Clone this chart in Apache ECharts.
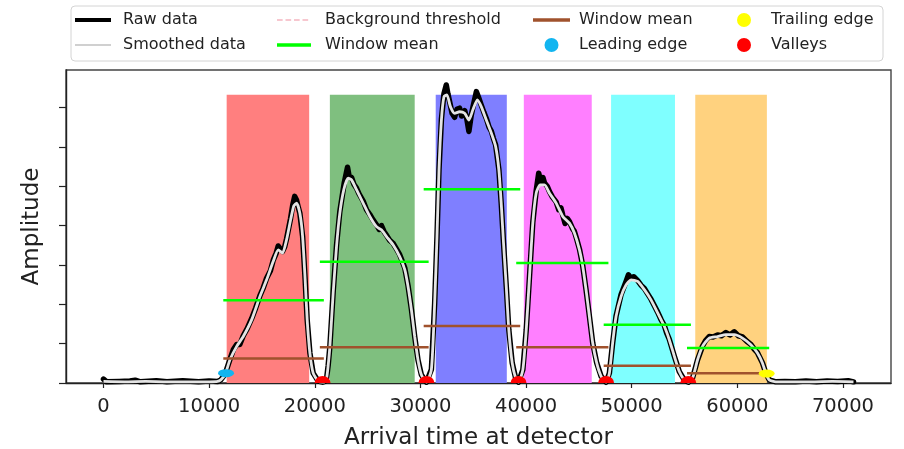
<!DOCTYPE html>
<html>
<head>
<meta charset="utf-8">
<script src="https://cdn.jsdelivr.net/npm/echarts@6/dist/echarts.min.js"></script>
<style>
  html, body { margin: 0; padding: 0; background: #fff; }
  #chart { width: 904px; height: 449px; }
</style>
</head>
<body>
<div id="chart"></div>
<script>
// Detector trace: [arrival time, amplitude]
const rawData = [
  [0,0.10],[300,0.03],[1500,0.04],[2500,0.05],[3000,0.07],[3500,0.03],[5000,0.06],[6000,0.03],
  [7500,0.06],[9000,0.03],[10000,0.05],[10800,0.04],[11100,0.08],
  [11500,0.22],[11970,0.60],[12300,0.85],[12610,0.98],[12900,0.98],[13230,1.20],[13600,1.38],
  [14030,1.64],[14400,1.90],[14810,2.22],[15100,2.40],[15440,2.66],[15800,2.85],[16070,3.12],
  [16350,3.30],[16540,3.48],[16750,3.40],[16950,3.34],[17150,3.46],[17330,3.66],[17710,4.18],
  [17900,4.50],[18100,4.74],[18280,4.64],[18450,4.45],[18590,4.31],[18850,3.72],[19090,2.62],
  [19280,1.61],[19540,0.76],[19850,0.25],[20320,0.05],[20740,0.02],
  [20950,0.04],[21120,0.12],[21270,0.45],[21430,0.93],[21740,2.30],[22060,3.50],[22370,4.35],
  [22600,4.75],[22800,5.10],[23000,5.35],[23100,5.48],[23250,5.25],[23480,5.22],[23700,5.05],
  [23950,4.95],[24200,4.80],[24580,4.62],[24900,4.40],[25210,4.28],[25500,4.15],[25840,4.02],
  [26100,3.90],[26310,4.00],[26550,3.85],[26790,3.75],[27100,3.62],[27410,3.55],[27700,3.42],
  [28040,3.26],[28300,3.08],[28520,2.92],[28830,2.47],[29150,1.87],[29460,1.18],[29770,0.59],
  [30090,0.21],[30570,0.02],
  [31040,0.34],[31350,2.03],[31570,3.72],[31760,5.41],[31990,6.70],[32230,7.35],[32450,7.57],
  [32600,7.35],[32840,7.05],[33000,6.85],[33240,6.75],[33450,6.95],[33710,6.98],[33900,6.78],
  [34190,6.92],[34400,6.70],[34590,6.39],[34800,6.78],[34970,7.00],[35300,7.40],[35500,7.26],
  [35760,7.06],[36000,6.88],[36240,6.72],[36500,6.50],[36710,6.40],[36900,6.22],[37120,6.05],
  [37430,5.42],[37650,4.57],[37870,3.55],[38130,2.45],[38370,1.35],[38690,0.51],[39010,0.13],
  [39290,0.02],
  [39700,0.34],[40020,1.35],[40330,2.71],[40640,4.08],[40960,4.88],[41200,5.33],[41400,5.10],
  [41600,5.22],[41750,5.08],[42000,5.00],[42220,4.86],[42500,4.72],[42850,4.60],[43100,4.40],
  [43300,4.45],[43480,4.26],[43700,4.05],[43900,4.18],[44110,4.10],[44400,3.92],[44580,3.85],
  [44800,3.65],[45060,3.40],[45370,2.97],[45680,2.37],[46000,1.69],[46310,1.02],[46690,0.51],
  [47110,0.17],[47580,0.02],
  [47890,0.25],[48200,1.02],[48520,1.70],[49000,2.25],[49470,2.58],[49700,2.75],[49940,2.66],
  [50200,2.70],[50570,2.60],[50900,2.48],[51200,2.40],[51500,2.27],[51830,2.13],[52150,1.96],
  [52460,1.80],[52800,1.60],[53090,1.46],[53300,1.28],[53560,1.11],[54040,0.68],[54510,0.29],
  [54980,0.08],[55360,0.02],
  [55770,0.13],[56240,0.59],[56710,0.94],[57000,1.08],[57340,1.18],[57700,1.17],[58130,1.22],
  [58500,1.20],[58920,1.28],[59300,1.22],[59710,1.30],[60100,1.20],[60490,1.17],[60900,1.06],
  [61280,0.98],[61600,0.86],[61910,0.77],[62380,0.51],[62700,0.25],[63020,0.08],[63650,0.03],
  [64500,0.04],[65500,0.03],[66500,0.05],[67500,0.03],[68500,0.05],[69500,0.04],[70500,0.06],
  [71000,0.03]
];

const smoothData = [
  [0,0.04],[2000,0.03],[4000,0.04],[6000,0.03],[8000,0.03],[10000,0.03],[10800,0.04],[11100,0.08],
  [11500,0.21],[11970,0.59],[12610,0.93],[13230,1.18],[14030,1.61],[14810,2.20],[15440,2.62],
  [16070,3.09],[16540,3.38],[16950,3.30],[17330,3.64],[17710,4.14],[18020,4.50],[18280,4.57],
  [18590,4.31],[18850,3.72],[19090,2.62],[19280,1.61],[19540,0.76],[19850,0.25],[20320,0.05],
  [20740,0.02],
  [20950,0.04],[21120,0.12],[21270,0.45],[21430,0.93],[21740,2.28],[22060,3.47],[22370,4.31],
  [22750,4.91],[23160,5.20],[23480,5.16],[23950,4.91],[24580,4.57],[25210,4.23],[25840,3.97],
  [26310,3.89],[26790,3.72],[27410,3.51],[28040,3.21],[28520,2.88],[28830,2.45],[29150,1.86],
  [29460,1.18],[29770,0.59],[30090,0.21],[30570,0.02],
  [31040,0.34],[31350,2.03],[31570,3.72],[31760,5.41],[31990,6.68],[32230,7.27],[32510,7.32],
  [32840,7.02],[33240,6.85],[33710,6.89],[34190,6.85],[34590,6.68],[34970,6.94],[35390,7.19],
  [35760,7.02],[36240,6.68],[36710,6.35],[37120,6.01],[37430,5.41],[37650,4.57],[37870,3.55],
  [38130,2.45],[38370,1.35],[38690,0.51],[39010,0.13],[39290,0.02],
  [39700,0.34],[40020,1.35],[40330,2.71],[40640,4.06],[40960,4.82],[41340,5.03],[41750,5.03],
  [42220,4.82],[42850,4.57],[43480,4.23],[44110,4.06],[44580,3.81],[45060,3.38],[45370,2.96],
  [45680,2.37],[46000,1.69],[46310,1.02],[46690,0.51],[47110,0.17],[47580,0.02],
  [47890,0.25],[48200,1.02],[48520,1.69],[49000,2.20],[49470,2.49],[49940,2.62],[50570,2.58],
  [51200,2.37],[51830,2.11],[52460,1.78],[53090,1.44],[53560,1.10],[54040,0.68],[54510,0.29],
  [54980,0.08],[55360,0.02],
  [55770,0.13],[56240,0.59],[56710,0.93],[57340,1.14],[58130,1.18],[58920,1.23],[59710,1.23],
  [60490,1.14],[61280,0.97],[61910,0.76],[62380,0.51],[62700,0.25],[63020,0.08],[63650,0.03],
  [65000,0.03],[67000,0.03],[69000,0.04],[71000,0.03]
];

// Pulse windows (shaded spans)
const bandStart = [11660, 21430, 31450, 39790, 48050, 56020];
const bandEnd   = [19470, 29460, 38180, 46220, 54100, 62800];
const bandTop   = 7.32;
const bandColors = ['#ff7f7f', '#7fbf7f', '#7f7fff', '#ff7fff', '#7fffff', '#ffd27f'];

// Window means per pulse
const meanStart  = [11340, 20480, 30310, 39070, 47350, 55240];
const meanEnd    = [20860, 30780, 39450, 47800, 55610, 63020];
const greenMean  = [2.10, 3.08, 4.92, 3.05, 1.48, 0.89];
const brownMean  = [0.62, 0.91, 1.45, 0.91, 0.44, 0.25];

// Background threshold
const thresholdSpan = [0, 71000];
const thresholdLevel = 0.0;

// Detected features
const leadingEdge  = [[11600, 0.25]];
const trailingEdge = [[62780, 0.24]];
const valleyTimes  = [20740, 30570, 39290, 47580, 55360];
const valleyAmps   = [0, 0, 0, 0, 0];

// Axis ticks
const xTickValues = [0, 10000, 20000, 30000, 40000, 50000, 60000, 70000];
const yTickValues = [0, 1, 2, 3, 4, 5, 6, 7];

const FONT = 'DejaVu Sans';

// Legend swatches drawn as flat bars (thick line, thin line, dashes)
const ICON_THICK  = 'path://M0,0H36V4H0Z';
const ICON_THIN   = 'path://M0,0H36V2H0Z';
const ICON_MEAN   = 'path://M0,0H36V3.5H0Z';
const ICON_DASHED = 'path://M0,0H6V1.6H0Z M9,0H15V1.6H9Z M18,0H24V1.6H18Z M27,0H33V1.6H27Z M36,0H36.01V1.6H36Z';

function segments(starts, ends, levels) {
  const out = [];
  starts.forEach((s, i) => {
    out.push([s, levels[i]], [ends[i], levels[i]], [ends[i], '-']);
  });
  return out;
}

const chart = echarts.init(document.getElementById('chart'), null, { renderer: 'canvas' });

const legendText = { fontFamily: FONT, fontSize: 16, color: '#222', lineHeight: 18 };

function column(left, width, gap, data) {
  return {
    orient: 'vertical',
    top: 11,
    left: left,
    padding: 0,
    itemWidth: width,
    itemHeight: 14,
    itemGap: 7,
    symbolKeepAspect: true,
    selectedMode: false,
    formatter: n => n.trim(),
    textStyle: Object.assign({}, legendText, { padding: [0, 0, 0, gap] }),
    data: data
  };
}

const option = {
  animation: false,
  backgroundColor: '#fff',
  graphic: [{
    type: 'rect',
    z: 0,
    shape: { x: 71, y: 6, width: 812, height: 55, r: 4 },
    style: { fill: '#fff', stroke: '#d4d4d4', lineWidth: 1 }
  }],
  legend: [
    column(75, 36, 7, [
      { name: 'Raw data', icon: ICON_THICK },
      { name: 'Smoothed data', icon: ICON_THIN, itemStyle: { color: '#d0d0d0' } }
    ]),
    column(277, 34, 9, [
      { name: 'Background threshold', icon: ICON_DASHED },
      { name: 'Window mean', icon: ICON_MEAN }
    ]),
    column(533, 37, 4, [
      { name: 'Window mean\u00a0', icon: ICON_MEAN },
      { name: 'Leading edge', icon: 'circle' }
    ]),
    column(737, 30, 7, [
      { name: 'Trailing edge', icon: 'circle' },
      { name: 'Valleys', icon: 'circle' }
    ])
  ],
  grid: {
    left: 66, right: 13, top: 70, bottom: 66,
    show: true, borderColor: '#444', borderWidth: 1.4,
    outerBoundsMode: 'none'
  },
  xAxis: {
    type: 'value',
    min: -3550, max: 74550,
    name: 'Arrival time at detector',
    nameLocation: 'middle',
    nameGap: 44,
    nameTextStyle: { fontFamily: FONT, fontSize: 23, color: '#222' },
    splitLine: { show: false },
    axisLine: { lineStyle: { color: '#222', width: 1.4 } },
    axisTick: { customValues: xTickValues, length: 5, lineStyle: { color: '#222', width: 1.2 } },
    axisLabel: {
      customValues: xTickValues,
      formatter: v => String(v),
      fontFamily: FONT, fontSize: 19.5, color: '#222', margin: 14
    }
  },
  yAxis: {
    type: 'value',
    min: 0, max: 7.95,
    name: 'Amplitude',
    nameLocation: 'middle',
    nameGap: 22,
    nameTextStyle: { fontFamily: FONT, fontSize: 23, color: '#222' },
    splitLine: { show: false },
    axisLine: { onZero: false, lineStyle: { color: '#222', width: 1.4 } },
    axisTick: { customValues: yTickValues, length: 7, lineStyle: { color: '#222', width: 1.2 } },
    axisLabel: { show: false }
  },
  series: [
    {
      type: 'line',
      data: [],
      silent: true,
      z: 1,
      markArea: {
        silent: true,
        data: bandStart.map((s, i) => [
          { xAxis: s, yAxis: 0, itemStyle: { color: bandColors[i], opacity: 1 } },
          { xAxis: bandEnd[i], yAxis: bandTop }
        ])
      }
    },
    {
      name: 'Background threshold',
      type: 'line',
      data: thresholdSpan.map(t => [t, thresholdLevel]),
      symbol: 'none',
      z: -1,
      lineStyle: { color: '#f5b5c0', width: 1.5, type: [5, 3] },
      itemStyle: { color: '#f5b5c0' }
    },
    {
      name: 'Raw data',
      type: 'line',
      data: rawData,
      symbol: 'none',
      z: 3,
      lineStyle: { color: '#000', width: 5.5, join: 'round', cap: 'round' },
      itemStyle: { color: '#000' }
    },
    {
      name: 'Smoothed data',
      type: 'line',
      data: smoothData,
      symbol: 'none',
      smooth: 0.2,
      z: 4,
      lineStyle: { color: '#e4e4e4', width: 2.8 },
      itemStyle: { color: '#e4e4e4' }
    },
    {
      name: 'Window mean',
      type: 'line',
      data: segments(meanStart, meanEnd, greenMean),
      symbol: 'none',
      z: 5,
      lineStyle: { color: '#00ff00', width: 2.5 },
      itemStyle: { color: '#00ff00' }
    },
    {
      name: 'Window mean\u00a0',
      type: 'line',
      data: segments(meanStart, meanEnd, brownMean),
      symbol: 'none',
      z: 5,
      lineStyle: { color: '#a0522d', width: 2.5 },
      itemStyle: { color: '#a0522d' }
    },
    {
      name: 'Leading edge',
      type: 'scatter',
      data: leadingEdge,
      symbol: 'circle',
      symbolSize: [16, 8],
      z: 6,
      itemStyle: { color: '#12b5f0', opacity: 1 }
    },
    {
      name: 'Trailing edge',
      type: 'scatter',
      data: trailingEdge,
      symbol: 'circle',
      symbolSize: [16, 8],
      z: 6,
      itemStyle: { color: '#ffff00', opacity: 1 }
    },
    {
      name: 'Valleys',
      type: 'scatter',
      data: valleyTimes.map((t, i) => [t, valleyAmps[i]]),
      symbol: 'path://M0,10 A10,10 0 0 1 20,10 Z',
      symbolSize: [16, 7],
      symbolOffset: [0, -3.5],
      z: 6,
      itemStyle: { color: '#ff0000', opacity: 1 }
    }
  ]
};

chart.setOption(option);
</script>
</body>
</html>
